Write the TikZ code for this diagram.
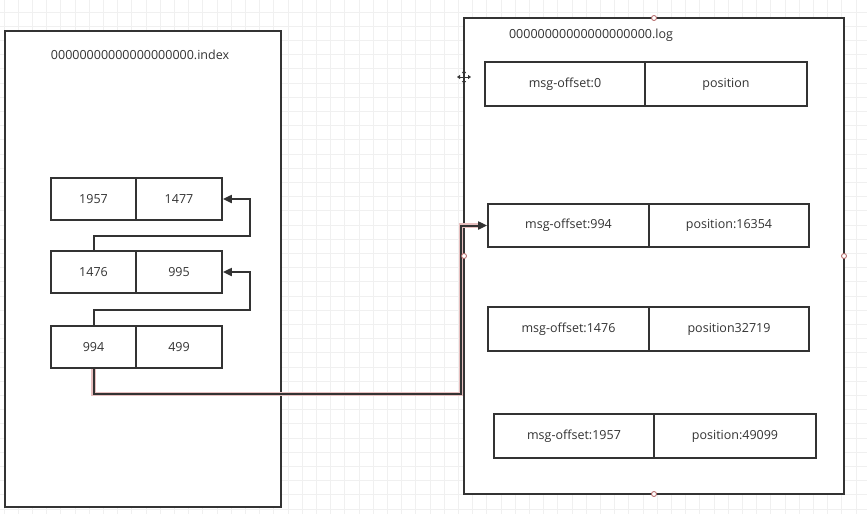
\documentclass[tikz,border=0pt]{standalone}
\usepackage{fontspec}
\setmainfont{Open Sans}
\usetikzlibrary{arrows.meta}
\definecolor{ink}{HTML}{333333}
\definecolor{gridc}{HTML}{F0F0F0}
\definecolor{glow}{HTML}{E8C0C0}
\definecolor{handle}{HTML}{B06060}
\tikzset{
  cell/.style={draw=ink, line width=1.8pt, fill=white, inner sep=0pt, text=ink,
    font=\fontsize{12.5}{15}\selectfont},
  container/.style={draw=ink, line width=2pt, fill=white},
  title/.style={text=ink, font=\fontsize{12.5}{15}\selectfont, inner sep=0pt},
  arr/.style={draw=ink, line width=2pt, -{Triangle[length=9pt,width=8pt]}},
  glowline/.style={draw=glow, line width=4.5pt},
  hdl/.style={circle, draw=handle, fill=white, line width=0.8pt, minimum size=5pt, inner sep=0pt},
}
\begin{document}
\begin{tikzpicture}[x=1pt,y=-1pt]
\useasboundingbox (0,0) rectangle (867,514);
% background grid
\fill[white] (0,0) rectangle (867,514);
\foreach \i in {0,...,61} {
  \draw[gridc, line width=0.8pt] ({4+14.2*\i},0) -- ({4+14.2*\i},514);
}
\foreach \j in {0,...,36} {
  \draw[gridc, line width=0.8pt] (0,{12+14.2*\j}) -- (867,{12+14.2*\j});
}
% containers
\path[container] (5,31) rectangle (281,507);
\path[container] (464,18) rectangle (844,494);
\node[title] (idxtitle) at (140,55) {00000000000000000000.index};
\node[title] (logtitle) at (591,35) {00000000000000000000.log};
% index cells
\node[cell, minimum width=85pt, minimum height=42pt] (r1a) at (93.5,199) {1957};
\node[cell, minimum width=86pt, minimum height=42pt] (r1b) at (179,199) {1477};
\node[cell, minimum width=85pt, minimum height=42pt] (r2a) at (93.5,272) {1476};
\node[cell, minimum width=86pt, minimum height=42pt] (r2b) at (179,272) {995};
\node[cell, minimum width=85pt, minimum height=42pt] (r3a) at (93.5,347) {994};
\node[cell, minimum width=86pt, minimum height=42pt] (r3b) at (179,347) {499};
% log cells
\node[cell, minimum width=160pt, minimum height=44pt] (l1a) at (565,84) {msg-offset:0};
\node[cell, minimum width=162pt, minimum height=44pt] (l1b) at (726,84) {position};
\node[cell, minimum width=161pt, minimum height=43pt] (l2a) at (568.5,225.5) {msg-offset:994};
\node[cell, minimum width=160pt, minimum height=43pt] (l2b) at (729,225.5) {position:16354};
\node[cell, minimum width=161pt, minimum height=44pt] (l3a) at (568.5,329) {msg-offset:1476};
\node[cell, minimum width=160pt, minimum height=44pt] (l3b) at (729,329) {position32719};
\node[cell, minimum width=160pt, minimum height=44pt] (l4a) at (574,436) {msg-offset:1957};
\node[cell, minimum width=162pt, minimum height=44pt] (l4b) at (735,436) {position:49099};
% index connectors
\coordinate (b1) at (250,236);
\coordinate (b2) at (250,310);
\draw[arr] (r2a.north) |- (b1) |- (r1b.east);
\draw[arr] (r3a.north) |- (b2) |- (r2b.east);
% index -> log connector (selected, with glow)
\coordinate (b3) at (461,394);
\draw[glowline] (r3a.south) |- (b3) |- ([xshift=-4pt]l2a.west);
\draw[arr] (r3a.south) |- (b3) |- (l2a.west);
% selection handles
\node[hdl] (h1) at (654,18) {};
\node[hdl] (h2) at (654,494) {};
\node[hdl] (h3) at (464,256) {};
\node[hdl] (h4) at (844,256) {};
% move cursor
\coordinate (cur) at (464,77);
\foreach \dx/\dy in {1/0,-1/0,0/1,0/-1} {
  \draw[ink, line width=1pt, -{Triangle[length=3pt,width=4pt]}] (cur) -- ++({7*\dx},{7*\dy});
}
\end{tikzpicture}
\end{document}
